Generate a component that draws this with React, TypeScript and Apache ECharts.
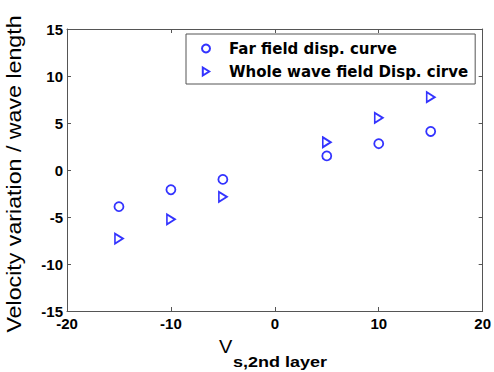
import React, { useEffect, useRef } from "react";
import * as echarts from "echarts";

const xValues = [-15, -10, -5, 5, 10, 15];
const farField = [-3.9, -2.1, -1.0, 1.5, 2.8, 4.1];
const wholeField = [-7.3, -5.25, -2.85, 2.95, 5.55, 7.75];
const seriesNames = ["Far field disp. curve", "Whole wave field Disp. cirve"];
const xTicks = { min: -20, max: 20, interval: 10 };
const yTicks = { min: -15, max: 15, interval: 5 };

const FONT = 'Arial, "Liberation Sans", sans-serif';
const WIDE = '"DejaVu Sans", Arial, sans-serif';
const BLUE = "#0000ff";
const AXIS = "#555555";
const TRI = "path://M0,0 L8,5 L0,10 Z";

export default function App() {
  const ref = useRef<HTMLDivElement>(null);
  useEffect(() => {
    if (!ref.current) return;
    const chart = echarts.init(ref.current, null, { renderer: "svg" });
    const axisCommon = {
      axisLine: { show: true, onZero: false, lineStyle: { color: AXIS, width: 1 } },
      axisTick: { show: true, inside: true, length: 4, lineStyle: { color: AXIS } },
      splitLine: { show: false },
    };
    const tickLabel = { fontFamily: FONT, fontWeight: "bold", fontSize: 15, color: "#000", margin: 4 };
    chart.setOption({
      animation: false,
      backgroundColor: "#ffffff",
      grid: { left: 67, top: 29, right: 11, bottom: 61, containLabel: false },
      xAxis: [
        { type: "value", ...xTicks, ...axisCommon, position: "bottom", axisLabel: { ...tickLabel, margin: 5 } },
        { type: "value", ...xTicks, ...axisCommon, position: "top", axisLabel: { show: false } },
      ],
      yAxis: [
        { type: "value", ...yTicks, ...axisCommon, position: "left", axisLabel: tickLabel },
        { type: "value", ...yTicks, ...axisCommon, position: "right", axisLabel: { show: false } },
      ],
      legend: {
        orient: "vertical",
        left: 186,
        top: 34,
        padding: [6, 7, 4, 15],
        itemGap: 6,
        itemWidth: 36,
        itemHeight: 8,
        borderColor: "#555",
        borderWidth: 1,
        borderRadius: 0,
        backgroundColor: "#fff",
        textStyle: { fontFamily: WIDE, fontWeight: "bold", fontSize: 15, lineHeight: 17, color: "#000" },
        data: [
          { name: seriesNames[0], icon: "circle" },
          { name: seriesNames[1], icon: TRI },
        ],
      },
      series: [
        {
          name: seriesNames[0],
          type: "scatter",
          symbol: "circle",
          symbolSize: 9,
          itemStyle: { color: "transparent", borderColor: BLUE, borderWidth: 1.8 },
          data: xValues.map((x, i) => [x, farField[i]]),
        },
        {
          name: seriesNames[1],
          type: "scatter",
          symbol: TRI,
          symbolSize: [8, 10],
          itemStyle: { color: "transparent", borderColor: BLUE, borderWidth: 1.8 },
          data: xValues.map((x, i) => [x, wholeField[i]]),
        },
      ],
      graphic: [
        {
          type: "text",
          x: 15,
          y: 174,
          rotation: Math.PI / 2,
          scaleX: 1.19,
          style: {
            text: "Velocity variation / wave length",
            font: `19.5px ${FONT}`,
            fill: "#000",
            align: "center",
            verticalAlign: "middle",
          },
        },
        {
          type: "text",
          x: 219,
          y: 337,
          scaleX: 1.05,
          style: { text: "V", font: `19px ${FONT}`, fill: "#000" },
        },
        {
          type: "text",
          x: 233,
          y: 355,
          scaleX: 1.2,
          style: { text: "s,2nd layer", font: `bold 15px ${FONT}`, fill: "#000" },
        },
      ],
    });
    return () => chart.dispose();
  }, []);
  return (
    <div
      ref={ref}
      style={{ position: "fixed", left: 0, top: 0, width: 494, height: 372, background: "#fff" }}
    />
  );
}
